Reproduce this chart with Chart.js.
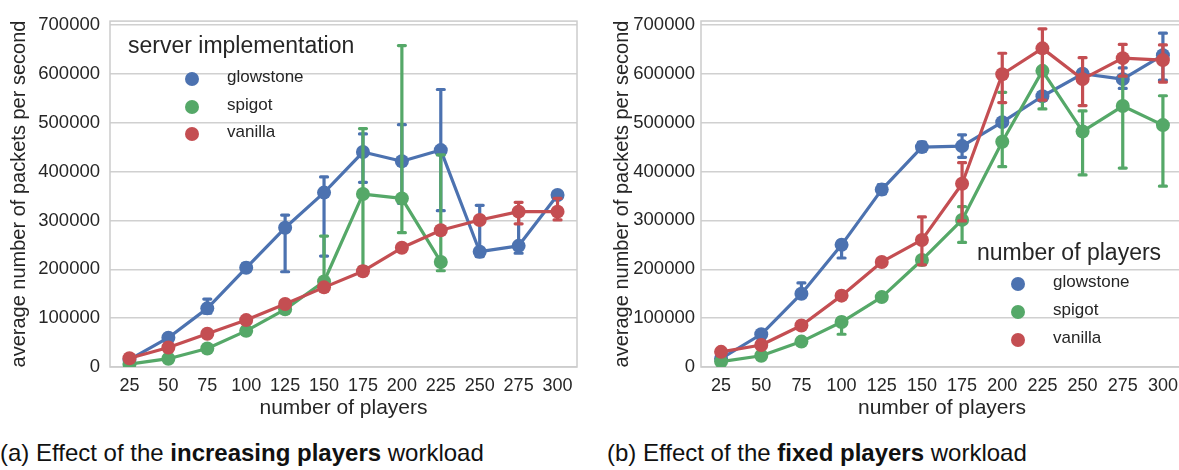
<!DOCTYPE html>
<html>
<head>
<meta charset="utf-8">
<script src="https://cdn.jsdelivr.net/npm/chart.js@4.4.1/dist/chart.umd.min.js"></script>
<style>
  html, body { margin: 0; padding: 0; background: #fff; }
  #page { position: relative; width: 1179px; height: 470px; overflow: hidden; background: #fff;
          font-family: "Liberation Sans", Arial, sans-serif; color: #262626; }
  #page canvas { position: absolute; top: 0; }
  .abs { position: absolute; white-space: nowrap; line-height: 1.2; }
  .dot { position: absolute; width: 14px; height: 14px; border-radius: 50%; }
  .lg-title { font-size: 23px; }
  .lg-label { font-size: 17px; }
  .caption { font-size: 24px; color: #111; }
</style>
</head>
<body>
<div id="page">
  <canvas id="chartInc" width="600" height="430" style="left:0px"></canvas>
  <canvas id="chartFix" width="600" height="430" style="left:590px"></canvas>
  <div id="legendInc"></div>
  <div id="legendFix"></div>
  <div class="abs caption" style="left:0px; top:439px">(a) Effect of the <b>increasing players</b> workload</div>
  <div class="abs caption" style="left:607px; top:439px">(b) Effect of the <b>fixed players</b> workload</div>
</div>
<script>
// Player counts on the x axis
const players = ['25', '50', '75', '100', '125', '150', '175', '200', '225', '250', '275', '300'];
// Y axis tick values
const yTickValues = [0, 100000, 200000, 300000, 400000, 500000, 600000, 700000];
const seriesNames = ['glowstone', 'spigot', 'vanilla'];
const seriesColors = ['#4C72B0', '#55A868', '#C44E52'];

// (a) increasing players workload: means and confidence interval bounds
const incGlowstone   = [15000, 60000, 120000, 203000, 285000, 357000, 440000, 421000, 444000, 236000, 248000, 352000];
const incGlowstoneLo = [12000, 55000, 110000, 196000, 195000, 227000, 378000, 335000, 320000, 226000, 233000, 346000];
const incGlowstoneHi = [18000, 65000, 139000, 212000, 311000, 389000, 477000, 496000, 568000, 331000, 316000, 358000];
const incSpigot      = [6000, 17000, 38000, 74000, 118000, 175000, 354000, 345000, 215000, null, null, null];
const incSpigotLo    = [3000, 13000, 33000, 66000, 112000, 160000, 205000, 275000, 197000, null, null, null];
const incSpigotHi    = [9000, 21000, 43000, 80000, 124000, 268000, 488000, 658000, 434000, null, null, null];
const incVanilla     = [18000, 40000, 68000, 96000, 129000, 163000, 196000, 244000, 280000, 301000, 318000, 318000];
const incVanillaLo   = [15000, 37000, 65000, 93000, 125000, 159000, 192000, 240000, 276000, 297000, 293000, 301000];
const incVanillaHi   = [21000, 43000, 71000, 99000, 133000, 167000, 200000, 248000, 284000, 305000, 337000, 345000];

// (b) fixed players workload
const fixGlowstone   = [17000, 67000, 150000, 250000, 363000, 450000, 452000, 501000, 554000, 600000, 589000, 638000];
const fixGlowstoneLo = [14000, 62000, 143000, 223000, 354000, 441000, 429000, 494000, 546000, 593000, 570000, 587000];
const fixGlowstoneHi = [20000, 72000, 172000, 258000, 373000, 460000, 475000, 508000, 562000, 607000, 612000, 683000];
const fixSpigot      = [11000, 23000, 52000, 92000, 143000, 219000, 301000, 461000, 606000, 482000, 534000, 495000];
const fixSpigotLo    = [8000, 19000, 47000, 67000, 137000, 212000, 255000, 410000, 528000, 393000, 407000, 370000];
const fixSpigotHi    = [14000, 27000, 57000, 100000, 149000, 226000, 328000, 562000, 650000, 524000, 595000, 555000];
const fixVanilla     = [31000, 45000, 85000, 146000, 215000, 260000, 375000, 599000, 652000, 589000, 632000, 628000];
const fixVanillaLo   = [27000, 41000, 80000, 140000, 208000, 209000, 299000, 541000, 546000, 535000, 595000, 583000];
const fixVanillaHi   = [35000, 49000, 90000, 152000, 222000, 307000, 418000, 642000, 692000, 633000, 660000, 659000];

const FONT = '"Liberation Sans", Arial, sans-serif';
const TEXT = '#262626';

// Vertical confidence-interval bars with caps, drawn under each series' line
const errorBars = {
  id: 'errorBars',
  beforeDatasetDraw(chart, args) {
    const ds = chart.data.datasets[args.index];
    const meta = args.meta;
    const ys = chart.scales.y;
    const ctx = chart.ctx;
    const area = chart.chartArea;
    ctx.save();
    ctx.beginPath();
    ctx.rect(area.left, area.top, area.right - area.left, area.bottom - area.top);
    ctx.clip();
    ctx.strokeStyle = ds.borderColor;
    ctx.lineWidth = 3.2;
    ctx.lineCap = 'round';
    ds.errLo.forEach((lo, i) => {
      const hi = ds.errHi[i];
      if (lo == null || hi == null) return;
      const x = meta.data[i].x;
      const y0 = ys.getPixelForValue(lo);
      const y1 = ys.getPixelForValue(hi);
      ctx.beginPath();
      ctx.moveTo(x, y0); ctx.lineTo(x, y1);
      ctx.moveTo(x - 3.5, y0); ctx.lineTo(x + 3.5, y0);
      ctx.moveTo(x - 3.5, y1); ctx.lineTo(x + 3.5, y1);
      ctx.stroke();
    });
    ctx.restore();
  }
};

// Light frame around the plotting area
const frame = {
  id: 'frame',
  beforeDatasetsDraw(chart) {
    const a = chart.chartArea;
    const ctx = chart.ctx;
    ctx.save();
    ctx.strokeStyle = '#cccccc';
    ctx.lineWidth = 1.5;
    ctx.strokeRect(a.left, a.top, a.right - a.left, a.bottom - a.top);
    ctx.restore();
  }
};

function buildChart(canvasId, values, lows, highs, geom) {
  const datasets = seriesNames.map((name, k) => ({
    label: name,
    data: values[k],
    errLo: lows[k],
    errHi: highs[k],
    borderColor: seriesColors[k],
    backgroundColor: seriesColors[k],
    pointBackgroundColor: seriesColors[k],
    pointBorderWidth: 0,
    pointRadius: 7,
    pointHoverRadius: 7,
    borderWidth: 3.2,
    borderJoinStyle: 'round',
    borderCapStyle: 'round',
    tension: 0,
    spanGaps: false,
    order: 3 - k
  }));
  return new Chart(document.getElementById(canvasId), {
    type: 'line',
    data: { labels: players, datasets },
    plugins: [frame, errorBars],
    options: {
      responsive: false,
      animation: false,
      devicePixelRatio: 1,
      layout: { padding: { left: 0, top: 21, right: geom.padRight, bottom: geom.padBottom } },
      plugins: { legend: { display: false }, tooltip: { enabled: false } },
      scales: {
        x: {
          type: 'category',
          offset: true,
          grid: { display: false, drawTicks: false },
          border: { display: false },
          ticks: { color: TEXT, font: { family: FONT, size: 18 }, padding: 8, maxRotation: 0, autoSkip: false },
          title: { display: true, text: 'number of players', color: TEXT,
                   font: { family: FONT, size: 21 }, padding: { top: 0, bottom: 0 } },
          afterFit(s) { s.height = geom.xHeight; }
        },
        y: {
          min: 0,
          max: 708000,
          grid: { color: '#d0d0d0', lineWidth: 1.5, drawTicks: false },
          border: { display: false },
          afterBuildTicks(s) { s.ticks = yTickValues.map(v => ({ value: v })); },
          ticks: { color: TEXT, font: { family: FONT, size: 18.5 }, padding: geom.tickPad,
                   callback: v => String(v) },
          title: { display: true, text: 'average number of packets per second', color: TEXT,
                   font: { family: FONT, size: 20 }, padding: { top: geom.yTitlePad, bottom: 0 } },
          afterFit(s) { s.width = geom.yWidth; }
        }
      }
    }
  });
}

buildChart('chartInc',
  [incGlowstone, incSpigot, incVanilla],
  [incGlowstoneLo, incSpigotLo, incVanillaLo],
  [incGlowstoneHi, incSpigotHi, incVanillaHi],
  { padRight: 23, padBottom: 9, xHeight: 54, yWidth: 110, yTitlePad: 7, tickPad: 10 });

buildChart('chartFix',
  [fixGlowstone, fixSpigot, fixVanilla],
  [fixGlowstoneLo, fixSpigotLo, fixVanillaLo],
  [fixGlowstoneHi, fixSpigotHi, fixVanillaHi],
  { padRight: 7, padBottom: 9, xHeight: 54, yWidth: 111, yTitlePad: 20, tickPad: 6 });

// Legends placed inside the plotting areas
function buildLegend(id, title, titleX, titleMid, dotX, labelX, rowMids) {
  const box = document.getElementById(id);
  const t = document.createElement('div');
  t.className = 'abs lg-title';
  t.textContent = title;
  t.style.left = titleX + 'px';
  t.style.top = (titleMid - 0.687 * 23) + 'px';
  box.appendChild(t);
  seriesNames.forEach((name, k) => {
    const d = document.createElement('div');
    d.className = 'dot';
    d.style.background = seriesColors[k];
    d.style.left = (dotX - 7) + 'px';
    d.style.top = (rowMids[k] - 7) + 'px';
    box.appendChild(d);
    const l = document.createElement('div');
    l.className = 'abs lg-label';
    l.textContent = name;
    l.style.left = labelX + 'px';
    l.style.top = (rowMids[k] - 0.687 * 17) + 'px';
    box.appendChild(l);
  });
}
buildLegend('legendInc', 'server implementation', 128, 48, 192, 227, [79, 107, 134]);
buildLegend('legendFix', 'number of players', 977, 255, 1018, 1053, [284, 312, 340]);
</script>
</body>
</html>
